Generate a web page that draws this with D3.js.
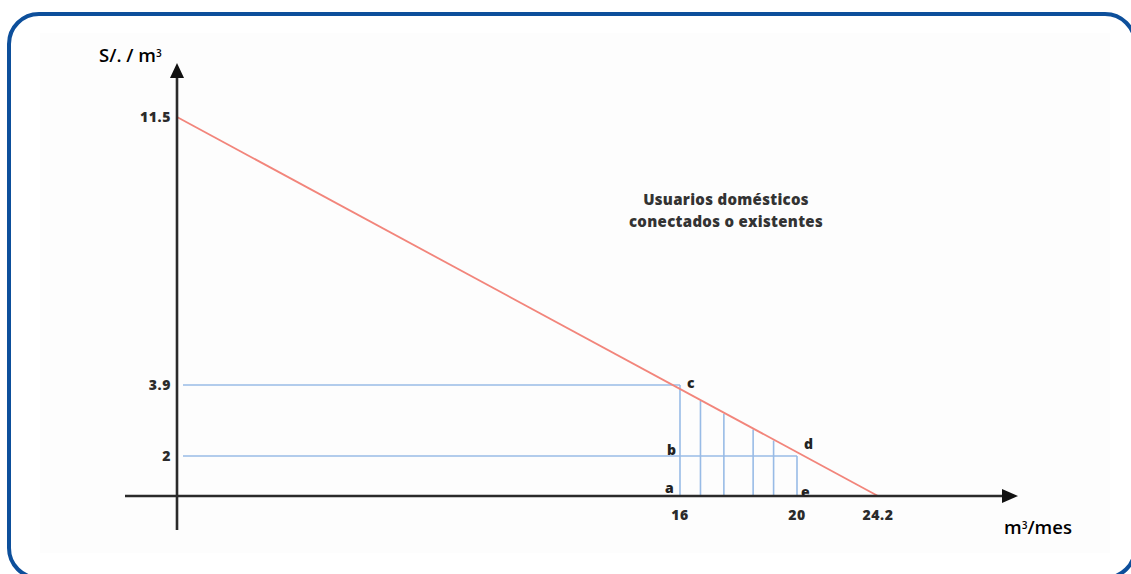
<!DOCTYPE html>
<html>
<head>
<meta charset="utf-8">
<style>
  body { margin: 0; background: #fff; }
  text { font-family: "Open Sans", "Liberation Sans", sans-serif; font-weight: 700; }
  .tick-lbl { font-size: 14px; fill: #2b2b2b; font-weight: 800; letter-spacing: 0.6px; }
  .pt-lbl { font-size: 14px; fill: #222; font-weight: 800; }
  .ax-title { font-size: 18.5px; fill: #000; font-weight: 600; }
  .note { font-size: 15px; fill: #333; font-weight: 800; letter-spacing: 0.3px; }
</style>
</head>
<body>
<svg width="1131" height="574"></svg>
<script src="https://d3js.org/d3.v7.min.js"></script>
<script>
// values
var xTicks = [16, 20, 24.2];
var yTicks = [11.5, 3.9, 2];
var demandLine = [{q: 0, p: 11.5}, {q: 24.2, p: 0}];
var priceLevels = [{p: 3.9, q: 16}, {p: 2, q: 20}];
var hatchQ = [16.7, 17.5, 18.5, 19.2];
var points = [
  {name: "a", q: 16, p: 0},
  {name: "b", q: 16, p: 2},
  {name: "c", q: 16, p: 3.9},
  {name: "d", q: 20, p: 2},
  {name: "e", q: 20, p: 0}
];
var noteLines = ["Usuarios domésticos", "conectados o existentes"];

var svg = d3.select("svg");

// frame
svg.append("rect")
  .attr("x", 9).attr("y", 14)
  .attr("width", 1126).attr("height", 564)
  .attr("rx", 30)
  .attr("fill", "#fff")
  .attr("stroke", "#0d4f9b")
  .attr("stroke-width", 4);

svg.append("rect")
  .attr("x", 40).attr("y", 33)
  .attr("width", 1070).attr("height", 520)
  .attr("fill", "#fdfdfd");

// scales (the drawing is not to scale, so piecewise)
var x = d3.scaleLinear().domain([0, 16, 20, 24.2]).range([177, 680, 797, 878]);
var y = d3.scaleLinear().domain([0, 2, 3.9, 11.5]).range([496, 456, 385, 117]);

// red line
var rx0 = x(demandLine[0].q), ry0 = y(demandLine[0].p);
var rx1 = x(demandLine[1].q), ry1 = y(demandLine[1].p);
function redY(px) { return ry0 + (px - rx0) * (ry1 - ry0) / (rx1 - rx0); }

var blue = "#98bbe6";
var g = svg.append("g");

// horizontal price lines
g.selectAll("line.h")
  .data(priceLevels)
  .enter().append("line")
  .attr("x1", x(0) + 6)
  .attr("x2", function(d) { return x(d.q); })
  .attr("y1", function(d) { return y(d.p); })
  .attr("y2", function(d) { return y(d.p); })
  .attr("stroke", blue)
  .attr("stroke-width", 1.6);

// verticals at 16 and 20
g.selectAll("line.v")
  .data(priceLevels)
  .enter().append("line")
  .attr("x1", function(d) { return x(d.q); })
  .attr("x2", function(d) { return x(d.q); })
  .attr("y1", function(d) { return y(d.p); })
  .attr("y2", y(0))
  .attr("stroke", blue)
  .attr("stroke-width", 1.6);

// hatch lines up to the red line
g.selectAll("line.hatch")
  .data(hatchQ)
  .enter().append("line")
  .attr("x1", function(d) { return x(d); })
  .attr("x2", function(d) { return x(d); })
  .attr("y1", function(d) { return redY(x(d)) + 1; })
  .attr("y2", y(0))
  .attr("stroke", blue)
  .attr("stroke-width", 1.6);

// demand line
g.append("path")
  .attr("d", d3.line().x(function(d) { return x(d.q); }).y(function(d) { return y(d.p); })(demandLine))
  .attr("fill", "none")
  .attr("stroke", "#f2857b")
  .attr("stroke-width", 1.8);

// axes
var axisColor = "#2a2a2a";
svg.append("line")
  .attr("x1", x(0)).attr("x2", x(0))
  .attr("y1", 530).attr("y2", 74)
  .attr("stroke", axisColor).attr("stroke-width", 2.6);
svg.append("path")
  .attr("d", "M" + x(0) + ",63 L" + (x(0) - 7) + ",78 L" + (x(0) + 7) + ",78 Z")
  .attr("fill", "#111");

svg.append("line")
  .attr("x1", 125).attr("x2", 1005)
  .attr("y1", y(0)).attr("y2", y(0))
  .attr("stroke", axisColor).attr("stroke-width", 2.6);
svg.append("path")
  .attr("d", "M1018," + y(0) + " L1002," + (y(0) - 7) + " L1002," + (y(0) + 7) + " Z")
  .attr("fill", "#111");

// tick labels
svg.selectAll("text.yt")
  .data(yTicks)
  .enter().append("text")
  .attr("class", "tick-lbl")
  .attr("x", x(0) - 6)
  .attr("y", function(d) { return y(d); })
  .attr("dy", "0.35em")
  .attr("text-anchor", "end")
  .text(function(d) { return d; });

svg.selectAll("text.xt")
  .data(xTicks)
  .enter().append("text")
  .attr("class", "tick-lbl")
  .attr("x", function(d) { return x(d); })
  .attr("y", y(0) + 24)
  .attr("text-anchor", "middle")
  .text(function(d) { return d; });

// point labels
var off = {a: [-15, -3], b: [-13, -1], c: [7, 3], d: [7, -7], e: [4, 1]};
svg.selectAll("text.pt")
  .data(points)
  .enter().append("text")
  .attr("class", "pt-lbl")
  .attr("x", function(d) { return x(d.q) + off[d.name][0]; })
  .attr("y", function(d) { return y(d.p) + off[d.name][1]; })
  .text(function(d) { return d.name; });

// axis titles
var t1 = svg.append("text").attr("class", "ax-title").attr("x", 99).attr("y", 62);
t1.append("tspan").text("S/. / m");
t1.append("tspan").attr("font-size", "10px").attr("dy", "-5").text("3");

var t2 = svg.append("text").attr("class", "ax-title").attr("x", 1004).attr("y", 534);
t2.append("tspan").text("m");
t2.append("tspan").attr("font-size", "10px").attr("dy", "-5").text("3");
t2.append("tspan").attr("dy", "5").text("/mes");

// note
svg.selectAll("text.note")
  .data(noteLines)
  .enter().append("text")
  .attr("class", "note")
  .attr("x", 726)
  .attr("y", function(d, i) { return 205 + i * 22; })
  .attr("text-anchor", "middle")
  .text(function(d) { return d; });
</script>
</body>
</html>
